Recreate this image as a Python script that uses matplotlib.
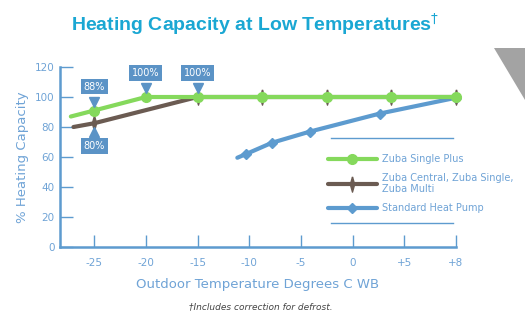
import matplotlib
matplotlib.use("Agg")
import matplotlib.pyplot as plt
from matplotlib.patches import Polygon

# x positions are on the tick-index scale (ticks are evenly spaced but not linear in degrees)
tick_labels = ["-25", "-20", "-15", "-10", "-5", "0", "+5", "+8"]

plus_x = [-0.45, 0, 1, 2, 3.25, 4.5, 5.75, 7]
plus_y = [87, 91, 100, 100, 100, 100, 100, 100]
plus_mark = [1, 2, 3, 4, 5, 6, 7]

multi_x = [-0.4, 0, 2, 3.25, 4.5, 5.75, 7]
multi_y = [80, 82.5, 100, 100, 100, 100, 100]
multi_mark = [1, 2, 3, 4, 5, 6]

std_x = [2.77, 2.94, 3.44, 4.18, 5.53, 7]
std_y = [59.5, 62, 69.5, 77, 89, 99.5]
std_mark = [1, 2, 3, 4, 5]

callouts = [(0, 91, "88%", "up"), (1, 100, "100%", "up"), (2, 100, "100%", "up"), (0, 82.5, "80%", "down")]

green = "#85d95c"
brown = "#6b5b52"
blue = "#5d9bcf"
txt = "#6fa3d6"
box = "#5b93c6"

fig = plt.figure(figsize=(5.25, 3.14), dpi=100)
ax = fig.add_axes([0.1143, 0.2134, 0.7543, 0.5732])

thin = [(0, 1), (0.28, 0), (0, -1), (-0.28, 0), (0, 1)]
ax.plot(std_x, std_y, color=blue, lw=3, marker="D", ms=5.5, markevery=std_mark,
        clip_on=False, solid_capstyle="round", zorder=3, label="Standard Heat Pump")
ax.plot(multi_x, multi_y, color=brown, lw=3, marker=thin, ms=11, markevery=multi_mark,
        clip_on=False, solid_capstyle="round", zorder=4, label="Zuba Central, Zuba Single,\nZuba Multi")
ax.plot(plus_x, plus_y, color=green, lw=3, marker="o", ms=7, markevery=plus_mark,
        clip_on=False, solid_capstyle="round", zorder=5, label="Zuba Single Plus")

for x, y, s, d in callouts:
    if d == "up":
        ax.plot(x, y + 6, marker="v", ms=7, color=box, zorder=6, clip_on=False)
        ax.text(x, y + 16, s, ha="center", va="center", color="white", fontsize=7,
                bbox=dict(boxstyle="square,pad=0.3", fc=box, ec="none"), zorder=7)
    else:
        ax.plot(x, y - 6, marker="^", ms=7, color=box, zorder=6, clip_on=False)
        ax.text(x, y - 15, s, ha="center", va="center", color="white", fontsize=7,
                bbox=dict(boxstyle="square,pad=0.3", fc=box, ec="none"), zorder=7)

ax.set_xlim(-0.66, 7)
ax.set_ylim(0, 120)
ax.set_xticks(range(len(tick_labels)))
ax.set_xticklabels(tick_labels)
ax.set_yticks(range(0, 121, 20))
for s in ["top", "right"]:
    ax.spines[s].set_visible(False)
for s in ["left", "bottom"]:
    ax.spines[s].set_color(blue)
    ax.spines[s].set_linewidth(1.8)
ax.tick_params(direction="in", length=9, width=1, color=blue, labelcolor=txt, labelsize=7.5)
ax.tick_params(axis="x", pad=8)
ax.tick_params(axis="y", pad=4)
ax.set_xlabel("Outdoor Temperature Degrees C WB", color=txt, fontsize=9.5, labelpad=7)
ax.set_ylabel("% Heating Capacity", color=txt, fontsize=9.5, labelpad=4)

h, l = ax.get_legend_handles_labels()
leg = ax.legend(h[::-1], l[::-1], loc="upper left", bbox_to_anchor=(0.655, 0.565),
                frameon=False, fontsize=7, labelcolor=txt, handlelength=5,
                handletextpad=0.5, labelspacing=0.9)
fig.add_artist(plt.Line2D([331 / 525, 453 / 525], [1 - 138 / 314] * 2, color=blue, lw=1))
fig.add_artist(plt.Line2D([331 / 525, 453 / 525], [1 - 223 / 314] * 2, color=blue, lw=1))

fig.text(255 / 525, 1 - 24 / 314, "Heating Capacity at Low Temperatures$^{\\dagger}$",
         ha="center", va="center", color="#1aa7d3", fontsize=14, fontweight="bold",
         family=["Liberation Sans", "DejaVu Sans"])
fig.text(261 / 525, 1 - 307 / 314, "\u2020Includes correction for defrost.", ha="center",
         va="center", fontsize=6.5, style="italic", color="#444444")
fig.add_artist(Polygon([(494 / 525, 1 - 48 / 314), (1, 1 - 48 / 314), (1, 1 - 100 / 314)],
                       closed=True, fc="#a3a3a3", ec="none", transform=fig.transFigure))

fig.savefig("out.png", dpi=100)
